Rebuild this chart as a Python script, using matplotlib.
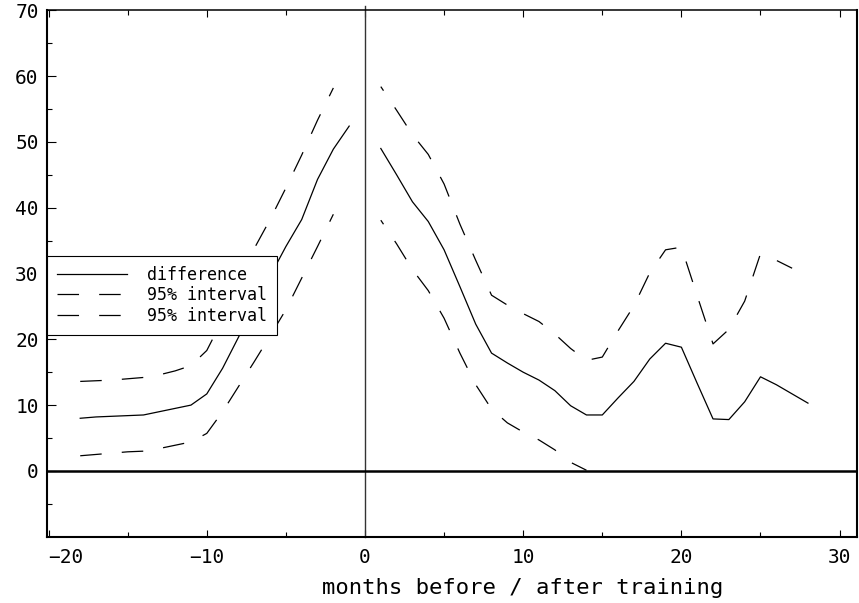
import matplotlib
matplotlib.use("Agg")
import matplotlib.pyplot as plt
from matplotlib.ticker import FixedLocator

plt.rcParams['font.family'] = ['DejaVu Sans Mono', 'DejaVu Sans']
plt.rcParams['lines.scale_dashes'] = False

# ---- data -------------------------------------------------------------
# months before training (estimate and its 95% band)
pre_months = list(range(-18, 0))
pre_diff = [8.0, 8.2, 8.3, 8.4, 8.5, 9.0, 9.5, 10.0, 11.7, 15.6, 20.3,
            25.0, 29.6, 34.1, 38.2, 44.3, 48.9, 52.4]
pre_band_months = list(range(-18, -1))
pre_upper = [13.6, 13.7, 13.8, 14.0, 14.2, 14.6, 15.2, 16.0, 18.3, 23.0,
             28.3, 33.8, 38.2, 43.0, 48.0, 53.3, 58.2]
pre_lower = [2.3, 2.5, 2.7, 2.9, 3.0, 3.4, 3.9, 4.4, 5.7, 9.0, 12.8, 16.6,
             20.5, 24.5, 29.3, 34.1, 39.0]

# months after training
post_months = list(range(1, 29))
post_diff = [49.0, 45.0, 40.9, 37.9, 33.6, 28.0, 22.3, 17.9, 16.4, 15.0,
             13.8, 12.2, 9.9, 8.5, 8.5, 11.1, 13.6, 17.0, 19.4, 18.8, 13.3,
             7.9, 7.8, 10.5, 14.3, 13.1, 11.7, 10.3]
post_upper_months = list(range(1, 28))
post_upper = [58.4, 54.8, 51.1, 48.1, 43.6, 37.5, 32.0, 26.7, 25.2, 23.9,
              22.7, 20.8, 18.6, 16.8, 17.3, 21.3, 25.1, 30.1, 33.6, 34.0,
              26.6, 19.3, 21.5, 25.8, 33.0, 32.0, 30.8]
post_lower_months = list(range(1, 15))
post_lower = [38.1, 34.5, 30.6, 27.4, 23.2, 17.9, 13.1, 9.4, 7.3, 5.9, 4.7,
              3.2, 1.3, 0.1]

xtick_values = [-20, -10, 0, 10, 20, 30]
ytick_values = [0, 10, 20, 30, 40, 50, 60, 70]
legend_labels = ['difference', '95% interval', '95% interval']
xlabel_text = 'months before / after training'

# ---- figure -------------------------------------------------------------
fig = plt.figure(figsize=(8.59, 6.03), dpi=100)
ax = fig.add_axes([0.05471, 0.10995, 0.94296, 0.87297])
ax.set_xlim(-20.1, 31.1)
ax.set_ylim(-10, 70)

LW = 0.9
DASH = (15.5, 14.5)
ink = 'black'

h_diff, = ax.plot(pre_months, pre_diff, color=ink, lw=LW, label=legend_labels[0])
h_up, = ax.plot(pre_band_months, pre_upper, color=ink, lw=LW,
                linestyle=(0, DASH), label=legend_labels[1])
h_lo, = ax.plot(pre_band_months, pre_lower, color=ink, lw=LW,
                linestyle=(0, DASH), label=legend_labels[2])
ax.plot(post_months, post_diff, color=ink, lw=LW)
ax.plot(post_upper_months, post_upper, color=ink, lw=LW, linestyle=(12, DASH))
ax.plot(post_lower_months, post_lower, color=ink, lw=LW, linestyle=(12, DASH))

# reference lines: training month and zero difference
ax.axvline(0, ymin=0, ymax=1.008, color='#333333', lw=1.0, clip_on=False)
ax.axhline(0, color=ink, lw=1.8)

# ---- axes styling ---------------------------------------------------------
for side, w in (('left', 1.5), ('bottom', 1.5), ('right', 1.5), ('top', 1.1)):
    ax.spines[side].set_linewidth(w)
    ax.spines[side].set_color(ink)

ax.xaxis.set_major_locator(FixedLocator(xtick_values))
ax.xaxis.set_minor_locator(FixedLocator([v + 5 for v in xtick_values[:-1]]))
ax.yaxis.set_major_locator(FixedLocator(ytick_values))
ax.yaxis.set_minor_locator(FixedLocator([v - 5 for v in ytick_values]))
ax.set_xticklabels([f'{v}'.replace('-', '\u2212') for v in xtick_values])
ax.set_yticklabels([f'{v}' for v in ytick_values])

ax.tick_params(axis='x', which='both', direction='in', top=True, bottom=True,
               width=0.8, labelsize=14, pad=8)
ax.tick_params(axis='x', which='major', length=5)
ax.tick_params(axis='x', which='minor', length=3.6)
ax.tick_params(axis='y', which='both', direction='in', left=True, right=False,
               width=0.8, labelsize=14, pad=6)
ax.tick_params(axis='y', which='major', length=6.5)
ax.tick_params(axis='y', which='minor', length=3.6)
ax.get_xticklabels()[0].set_horizontalalignment('left')

ax.set_xlabel(xlabel_text, fontsize=16)
ax.xaxis.set_label_coords(0.587, -0.078)

leg = ax.legend(handles=[h_diff, h_up, h_lo], loc='upper left',
                bbox_to_anchor=(0.0, 0.534), borderaxespad=0.0,
                fontsize=12, fancybox=False, framealpha=1.0,
                edgecolor=ink, handlelength=4.2, handletextpad=1.2,
                borderpad=0.6, labelspacing=0.15)
leg.get_frame().set_linewidth(0.8)
leg.set_zorder(5)

fig.savefig('out.png', dpi=100, facecolor='white')
